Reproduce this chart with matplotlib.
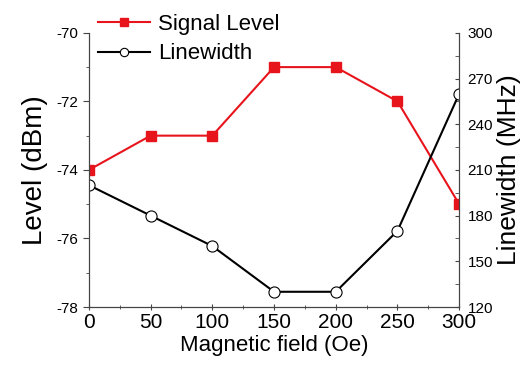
import matplotlib
matplotlib.use('Agg')
import matplotlib.pyplot as plt
from matplotlib.ticker import MultipleLocator

plt.rcParams['font.family'] = ['Liberation Sans', 'DejaVu Sans']
plt.rcParams['axes.unicode_minus'] = False

field = [0, 50, 100, 150, 200, 250, 300]
signal_level = [-74, -73, -73, -71, -71, -72, -75]
linewidth = [200, 180, 160, 130, 130, 170, 260]

fig = plt.figure(figsize=(5.26, 3.69), dpi=100)
ax = fig.add_axes([0.169, 0.168, 0.704, 0.743])
ax2 = ax.twinx()

l1, = ax.plot(field, signal_level, '-s', color='#e8141c', lw=1.5, ms=7,
              mfc='#e8141c', mec='#e8141c', label='Signal Level')
l2, = ax2.plot(field, linewidth, '-o', color='black', lw=1.5, ms=8,
               mfc='white', mec='black', mew=0.8, label='Linewidth')

ax.set_xlim(0, 300)
ax.set_ylim(-78, -70)
ax2.set_ylim(120, 300)
ax.xaxis.set_major_locator(MultipleLocator(50))
ax.xaxis.set_minor_locator(MultipleLocator(25))
ax.yaxis.set_major_locator(MultipleLocator(2))
ax.yaxis.set_minor_locator(MultipleLocator(1))
ax2.yaxis.set_major_locator(MultipleLocator(30))
ax2.yaxis.set_minor_locator(MultipleLocator(15))

for a in (ax, ax2):
    a.spines['top'].set_visible(False)
    for s in a.spines.values():
        s.set_color('#444444')
        s.set_linewidth(0.8)
ax.tick_params(axis='y', which='both', direction='out', color='#444444', labelsize=11, pad=3)
ax.tick_params(axis='y', which='major', length=4.5)
ax.tick_params(axis='y', which='minor', length=2.5)
ax.tick_params(axis='x', which='both', direction='inout', color='#444444', labelsize=15, pad=2)
ax.tick_params(axis='x', which='major', length=5)
ax.tick_params(axis='x', which='minor', length=3)
ax2.tick_params(axis='y', which='both', direction='in', color='#444444', labelsize=11, pad=6)
ax2.tick_params(axis='y', which='major', length=3)
ax2.tick_params(axis='y', which='minor', length=3)

ax.set_xlabel('Magnetic field (Oe)', fontsize=16, labelpad=2)
ax.set_ylabel('Level (dBm)', fontsize=20, labelpad=6)
ax2.set_ylabel('Linewidth (MHz)', fontsize=19, labelpad=3)

leg = fig.legend(handles=[l1, l2], loc='upper left', bbox_to_anchor=(98 / 526, 0.962),
                 frameon=False, fontsize=16, handlelength=2.36, handletextpad=0.36,
                 labelspacing=0.38, borderaxespad=0, borderpad=0, markerscale=0.75)

fig.savefig('out.png', dpi=100)
